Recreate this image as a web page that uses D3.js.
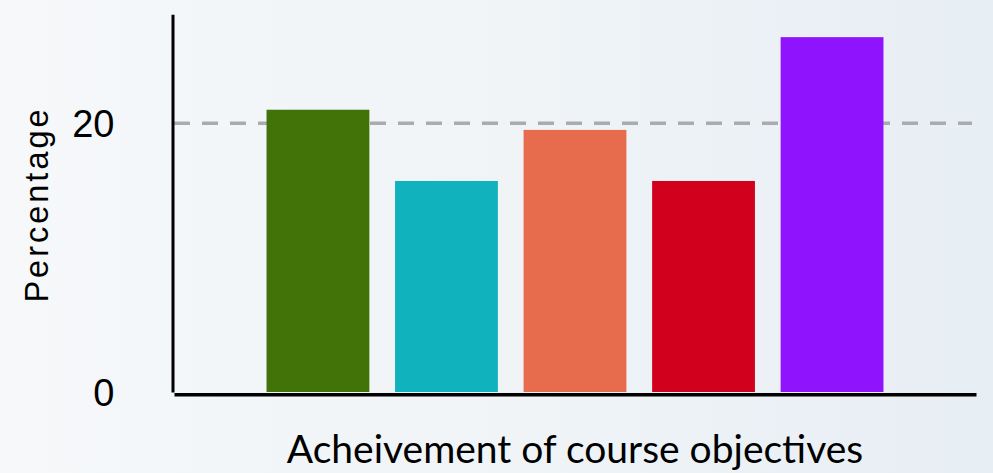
<!DOCTYPE html>
<html>
<head>
<meta charset="utf-8">
<script src="https://cdn.jsdelivr.net/npm/d3@7.9.0/dist/d3.min.js"></script>
<style>
  html, body { margin: 0; padding: 0; }
  body { width: 993px; height: 473px; overflow: hidden;
         background: linear-gradient(90deg, #f6f8fa 0%, #f0f4f7 50%, #e7eef4 100%); }
  svg { display: block; }
  .tick-lbl { font-family: "Liberation Sans", Arial, sans-serif; font-size: 38px; fill: #000; }
</style>
</head>
<body>
<div id="chart"></div>
<script>
// categories and values (percent)
const objectives = ['A', 'B', 'C', 'D', 'E'];
const percentages = [21.0, 15.7, 19.5, 15.7, 26.4];
const barColors = ['#427308', '#10b3bd', '#e76c4e', '#d1001d', '#9013fe'];
const yTicks = [0, 20];
const refValue = 20;

const width = 993;
const height = 473;

const svg = d3.select('#chart')
  .append('svg')
  .attr('width', width)
  .attr('height', height);

const xScale = d3.scaleBand()
  .domain(objectives)
  .range([174, 976])
  .paddingInner(0.2)
  .paddingOuter(0.72);

const yScale = d3.scaleLinear()
  .domain([0, 28.1])
  .range([392, 14.3]);

// dashed reference line at 20
svg.append('line')
  .attr('x1', 174)
  .attr('x2', 972)
  .attr('y1', yScale(refValue))
  .attr('y2', yScale(refValue))
  .attr('stroke', '#a9abae')
  .attr('stroke-width', 3.5)
  .attr('stroke-dasharray', '16 12');

// bars
svg.append('g')
  .selectAll('rect')
  .data(objectives)
  .join('rect')
  .attr('x', d => xScale(d))
  .attr('y', (d, i) => yScale(percentages[i]))
  .attr('width', xScale.bandwidth())
  .attr('height', (d, i) => yScale(0) - yScale(percentages[i]))
  .attr('fill', (d, i) => barColors[i]);

// y axis
const yAxis = svg.append('g')
  .attr('transform', 'translate(172.5, 0)')
  .call(d3.axisLeft(yScale).tickValues(yTicks).tickSize(0).tickPadding(58).tickSizeOuter(0));
yAxis.select('.domain').attr('stroke', '#000').attr('stroke-width', 3);
yAxis.selectAll('text')
  .attr('class', 'tick-lbl')
  .attr('font-family', null)
  .attr('font-size', null)
  .attr('dy', '0.36em');

// x axis
const xAxis = svg.append('g')
  .attr('transform', 'translate(0, 394.3)')
  .call(d3.axisBottom(xScale).tickSize(0).tickFormat('').tickSizeOuter(0));
xAxis.select('.domain').attr('stroke', '#000').attr('stroke-width', 3.5);

// axis titles
svg.append('text')
  .attr('transform', 'translate(48, 204.5) rotate(-90)')
  .attr('text-anchor', 'middle')
  .style('font-family', '"Liberation Sans", Arial, sans-serif')
  .style('font-size', '32.5px')
  .style('letter-spacing', '3px')
  .text('Percentage');

svg.append('text')
  .attr('x', (174 + 976) / 2)
  .attr('y', 463)
  .attr('text-anchor', 'middle')
  .style('font-family', 'Lato, sans-serif')
  .style('font-size', '39px')
  .text('Acheivement of course objectives');
</script>
</body>
</html>
